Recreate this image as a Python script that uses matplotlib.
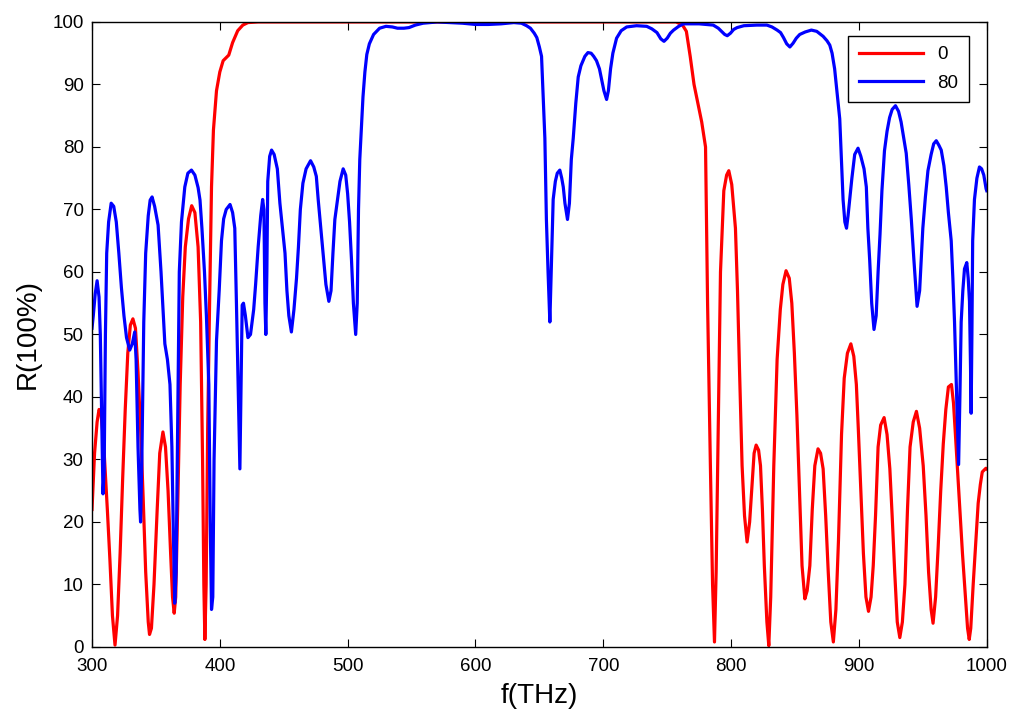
import matplotlib
matplotlib.use("Agg")
import matplotlib.pyplot as plt

plt.rcParams['font.family'] = ['Liberation Sans', 'DejaVu Sans']

# curve "0"
f0 = [300, 302, 304, 305.5, 307, 309, 312, 314, 316, 318, 320, 322, 324, 326, 328, 330, 332, 334,
      336, 338, 340, 342, 344, 345, 346.5, 348.5, 351, 353, 355.5, 357.5, 359.5, 361.5, 363, 364.3,
      365.5, 367, 369, 371, 373, 375.5, 378, 380.5, 383, 385, 386.5, 387.5, 388.3, 389.3, 390.5, 392,
      393.5, 395, 397.4, 400, 402.6, 407, 410, 414, 418, 422, 430, 757, 762, 765, 768, 771, 773, 777,
      780, 781.6, 783.8, 785.5, 787, 788.3, 789.5, 791.7, 794.3, 796.5, 798.2, 800.5, 803.4, 805,
      806.5, 808.6, 810.5, 812.5, 814.5, 816.4, 818, 819.6, 821.5, 823, 824.5, 826, 828, 829.5, 831,
      833.4, 836, 838.5, 840.5, 843, 845.5, 847.5, 849.5, 851.5, 853.5, 855.5, 857.7, 859.5, 861.6,
      863.5, 865.5, 868, 870, 872, 874, 876, 878, 880, 882, 884, 886.4, 888.5, 891, 893.7, 896, 898,
      899.5, 901.5, 903.5, 905.5, 907.5, 909.5, 911.2, 913, 915, 917, 919.7, 922, 924.2, 926, 928, 930,
      932, 934, 936, 938, 940, 942.5, 945, 947.5, 950.3, 952.5, 954.5, 956.5, 958, 960, 962, 964, 966,
      968, 970, 972.4, 974, 975.5, 977.5, 979, 981, 983, 985, 986.3, 987.5, 989.4, 991.5, 993.3, 995,
      996.5, 999.4, 1000]
r0 = [22, 31, 36, 38, 37.5, 33, 22, 14, 5, 0.3, 5, 15, 27, 38, 47, 51.5, 52.5, 51,
      44, 35, 24, 12, 4, 2, 3, 10, 22, 31, 34.4, 32, 25, 15, 8, 5.4,
      8, 22, 42, 56, 64, 68.5, 70.6, 69.5, 64, 52, 30, 10, 1.2, 10, 35, 55,
      73.6, 82.7, 89, 92, 93.8, 94.7, 96.7, 98.6, 99.5, 99.9, 100, 100, 99.5, 98.5, 94.5, 90, 88, 84,
      80, 55, 29, 10, 0.8, 12, 29, 60, 73, 75.5, 76.2, 74, 67, 57,
      45, 29, 21, 16.8, 20, 26, 31, 32.3, 31.5, 29, 22, 13, 4, 0.2, 8,
      29, 46, 54, 58, 60.2, 59, 55, 47, 37, 25, 13, 7.7, 9, 13,
      22, 29, 31.7, 31, 28.5, 21, 12, 4, 0.8, 6, 17, 34, 43, 47, 48.5, 46.5, 42,
      35, 25, 15, 8, 5.7, 8, 13, 21, 32, 35.5, 36.7, 34, 28.5, 21, 12, 4,
      1.5, 4, 10, 22, 32, 36, 37.7, 35, 29, 21, 12, 6, 3.8, 8, 16, 25, 32.5,
      38, 41.6, 42, 39, 34, 27, 22, 15, 9, 3, 1.2, 3, 10, 17, 23, 26,
      28, 28.6, 28.5]

# curve "80"
f80 = [300, 301, 302.5, 304, 305.5, 306.5, 307.5, 308.6, 309.5, 310.5, 311.5, 313, 315, 317, 319, 321,
       323, 325, 327, 329.5, 331.5, 333.4, 334.5, 336, 337.5, 338, 339, 340.5, 342, 344, 345.5, 347,
       349, 351.7, 354, 357, 359, 361, 362.5, 363.5, 364.7, 365.8, 367, 368.3, 370, 372.6, 375, 377.8,
       380.5, 383, 384.5, 386, 388, 389.5, 391.4, 392.5, 393.5, 394.5, 395.5, 397.4, 399.5, 401.3, 403,
       405, 408, 410, 411.7, 413, 414.5, 415.7, 416.5, 417.5, 418.5, 420, 422, 424, 426.5, 428, 430,
       432, 433.5, 434.5, 435.3, 436, 436.8, 437.5, 439, 440.5, 442.5, 445, 447, 449, 451, 452.5, 454,
       456, 458, 460, 461.5, 463, 465, 467.5, 471, 473.5, 475.5, 477, 479, 481, 483, 485.3, 487, 488.5,
       490, 492, 494, 496.5, 498.5, 500, 501.5, 503, 504.5, 506.3, 507.5, 508.5, 509.5, 511, 512, 513.5,
       515, 517, 520.3, 525, 530, 535, 539, 544, 548, 553, 559, 570, 590, 600, 610, 620, 630, 636, 640,
       643, 646, 648, 650, 651.7, 653, 654.3, 655.5, 656.8, 658.2, 659.5, 660.8, 662.5, 664, 666, 667.5,
       668.7, 670, 672, 673.5, 675, 676.5, 678.5, 680.4, 682.5, 685.6, 688, 690.5, 692.5, 694.7, 697,
       699, 700.5, 702.6, 704, 705.7, 707.5, 710.4, 714, 718.3, 726, 734, 738, 742, 745, 747.5, 750,
       752.5, 755, 759, 762.8, 775, 786, 790, 793, 795, 797, 799.5, 802, 804.7, 810, 820, 828, 832, 836,
       838.7, 841, 843.5, 846, 848.5, 851, 853.7, 858, 862.8, 867, 872, 875, 877.2, 879, 881, 883, 885,
       886.3, 887.6, 889, 890.3, 891.5, 892.8, 894.5, 896.7, 899.3, 901.5, 904, 905.8, 907, 908.4, 910,
       911.8, 913.5, 915, 916.5, 918, 920, 922, 924, 926, 928.6, 931, 933, 935, 937, 939, 941, 943,
       945.5, 947.5, 950, 952, 954, 956.5, 958.5, 960.5, 962.5, 964.4, 966.5, 968.3, 970, 972.2, 973.5,
       974.8, 976.5, 978, 979, 980, 981.3, 982.6, 984.4, 985.5, 986.5, 987.3, 987.8, 988.4, 989, 990.4,
       992.3, 994.3, 996, 997.7, 999.5, 1000]
r80 = [51, 53, 56.5, 58.6, 56, 50, 38, 24.5, 28, 50, 63, 68, 71, 70.5, 68, 63,
       57.5, 53, 49.5, 47.5, 48.5, 50.4, 46, 32, 22, 20, 30, 52, 63, 69, 71.5, 72,
       70.5, 67.5, 60, 48.5, 46, 42, 32, 20, 7, 12, 35, 60, 68, 73.6, 75.8, 76.3,
       75.5, 73.5, 71.5, 67, 60, 53, 42, 20, 6, 8, 30, 49, 57, 65, 68.5,
       70, 70.8, 69.5, 67, 55, 40, 28.5, 40, 54.7, 55, 53, 49.5, 50, 54, 58, 64,
       69, 71.6, 70, 55, 50, 60, 74.5, 78.5, 79.5, 78.8, 76.5, 71, 67, 63, 57, 53,
       50.4, 54, 59, 64, 70, 74.2, 76.5, 77.8, 76.8, 75.3, 71.5, 67, 62.5, 58, 55.3, 57, 63,
       68.4, 71.5, 74.5, 76.5, 75.5, 72.5, 68, 62, 55, 50, 55, 70, 78, 84, 88, 92,
       94.8, 96.5, 98, 99, 99.3, 99.2, 99, 99, 99.1, 99.5, 99.8, 100, 99.8, 99.6, 99.6, 99.7, 99.9, 99.8, 99.4,
       99, 98.2, 97.5, 96, 94.5, 88, 81.4, 68.4, 60, 52, 62, 71.6, 74.5, 75.8, 76.3, 75,
       73.6, 71, 68.4, 71, 78, 81.4, 87, 91.2, 93, 94.5, 95.1, 95, 94.5, 93.8, 92.5,
       90.5, 89, 87.6, 89, 92.5, 95, 97.4, 98.6, 99.2, 99.4, 99.3, 98.9, 98.3, 97.3, 96.9, 97.4,
       98.2, 98.7, 99.3, 99.7, 99.7, 99.5, 99, 98.4, 98, 97.8, 98.2, 98.8, 99.1, 99.4, 99.5, 99.5, 99.2, 98.7,
       98.3, 97.5, 96.5, 96, 96.6, 97.4, 98, 98.4, 98.7, 98.5, 97.7, 97, 96.3, 95, 92.5, 88.5, 84.5,
       78, 71.6, 68, 67, 69, 71.6, 75, 78.8, 79.8, 78.5, 76.5, 73.6, 67, 62, 55,
       50.8, 53, 60, 66, 73, 79.4, 82.5, 84.7, 86, 86.6, 85.7, 84, 81.5, 79, 74, 68.4, 62,
       54.5, 57, 67, 72, 76.2, 78.8, 80.5, 81, 80.3, 79.5, 77, 73.6, 69.5, 65, 59,
       52, 40, 29.2, 40, 52, 57, 60.5, 61.5, 59, 55.3, 45, 37.4, 50, 65, 71.6,
       75, 76.8, 76.5, 75.5, 73.3, 73]

labels = ['0', '80']
xticks = [300, 400, 500, 600, 700, 800, 900, 1000]
yticks = [0, 10, 20, 30, 40, 50, 60, 70, 80, 90, 100]

fig = plt.figure(figsize=(10.11, 7.13), dpi=100)
ax = fig.add_axes([0.091, 0.0926, 0.885, 0.8766])

ax.plot(f0, r0, color='#ff0000', lw=2.3, label=labels[0])
ax.plot(f80, r80, color='#0000ff', lw=2.3, label=labels[1])

ax.set_xlim(300, 1000)
ax.set_ylim(0, 100)
ax.set_xticks(xticks)
ax.set_yticks(yticks)
ax.tick_params(direction='in', top=True, right=True, labelsize=13.5, length=6, width=0.8)
ax.tick_params(axis='x', pad=8)
ax.tick_params(axis='y', pad=6)
for s in ax.spines.values():
    s.set_linewidth(1.0)

ax.set_xlabel('f(THz)', fontsize=20, labelpad=6)
ax.set_ylabel('R(100%)', fontsize=20, labelpad=8)

leg = ax.legend(loc='upper right', fontsize=13.5, fancybox=False, framealpha=1,
                edgecolor='black', handlelength=3.4, borderpad=0.55, labelspacing=0.6,
                borderaxespad=0, bbox_to_anchor=(0.98, 0.978))
leg.get_frame().set_linewidth(1.0)

fig.savefig('out.png', dpi=100)
